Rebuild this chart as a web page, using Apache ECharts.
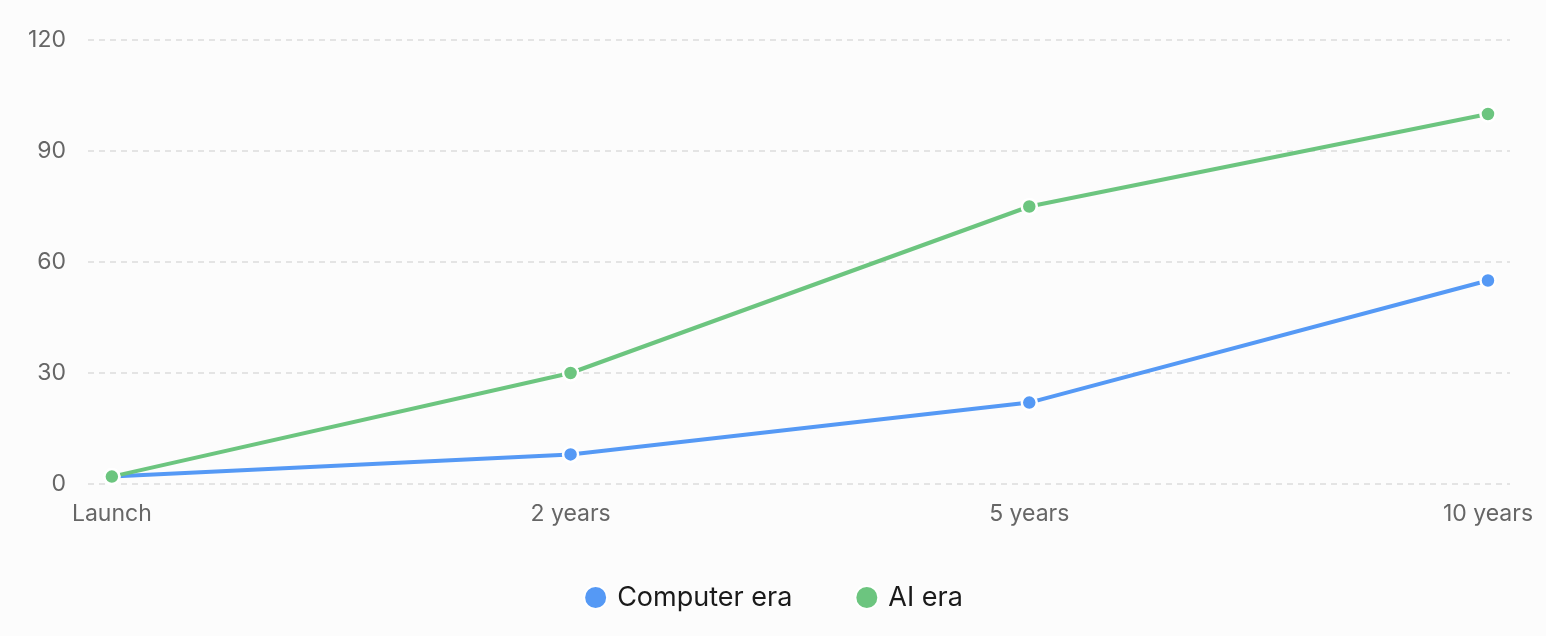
<!DOCTYPE html>
<html><head><meta charset="utf-8">
<script src="https://cdn.jsdelivr.net/npm/echarts@6/dist/echarts.min.js"></script>
<style>html,body{margin:0;padding:0;background:#fcfcfc}#c{width:1546px;height:636px}</style>
</head><body><div id="c"></div>
<script>
const categories = ['Launch', '2 years', '5 years', '10 years'];
const computerEra = [2, 8, 22, 55];
const aiEra = [2, 30, 75, 100];
const yTicks = [0, 30, 60, 90, 120];

const chart = echarts.init(document.getElementById('c'));
const toPairs = arr => arr.map((v, i) => [i, v]);
const font = 'Inter, "Noto Sans", sans-serif';
chart.setOption({
  backgroundColor: '#fcfcfc',
  animation: false,
  grid: { left: 88, right: 36, top: 40, bottom: 152 },
  legend: {
    bottom: 20, left: 'center', icon: 'circle', itemWidth: 23, itemHeight: 23, itemGap: 62,
    textStyle: { fontFamily: font, fontSize: 27, color: '#1a1a1a', padding: [0, 0, 0, 5] },
    data: ['Computer era', 'AI era']
  },
  xAxis: {
    type: 'value', min: -0.052, max: 3.048,
    axisLine: { show: false }, axisTick: { show: false }, splitLine: { show: false },
    axisLabel: {
      customValues: [0, 1, 2, 3], margin: 19,
      formatter: v => categories[Math.round(v)],
      fontFamily: font, fontSize: 23, color: '#666'
    }
  },
  yAxis: {
    type: 'value', min: yTicks[0], max: yTicks[yTicks.length - 1], interval: 30,
    axisLine: { show: false }, axisTick: { show: false },
    axisLabel: { margin: 22, fontFamily: font, fontSize: 23, color: '#666' },
    splitLine: { lineStyle: { color: '#dcdcdc', type: [6, 5], width: 1.5 } }
  },
  series: [
    { name: 'Computer era', type: 'line', data: toPairs(computerEra), color: '#5599f5',
      symbol: 'circle', symbolSize: 15, lineStyle: { width: 4 },
      itemStyle: { borderColor: '#fff', borderWidth: 2.5 } },
    { name: 'AI era', type: 'line', data: toPairs(aiEra), color: '#6cc57f',
      symbol: 'circle', symbolSize: 15, lineStyle: { width: 4 },
      itemStyle: { borderColor: '#fff', borderWidth: 2.5 } }
  ]
});
</script></body></html>
